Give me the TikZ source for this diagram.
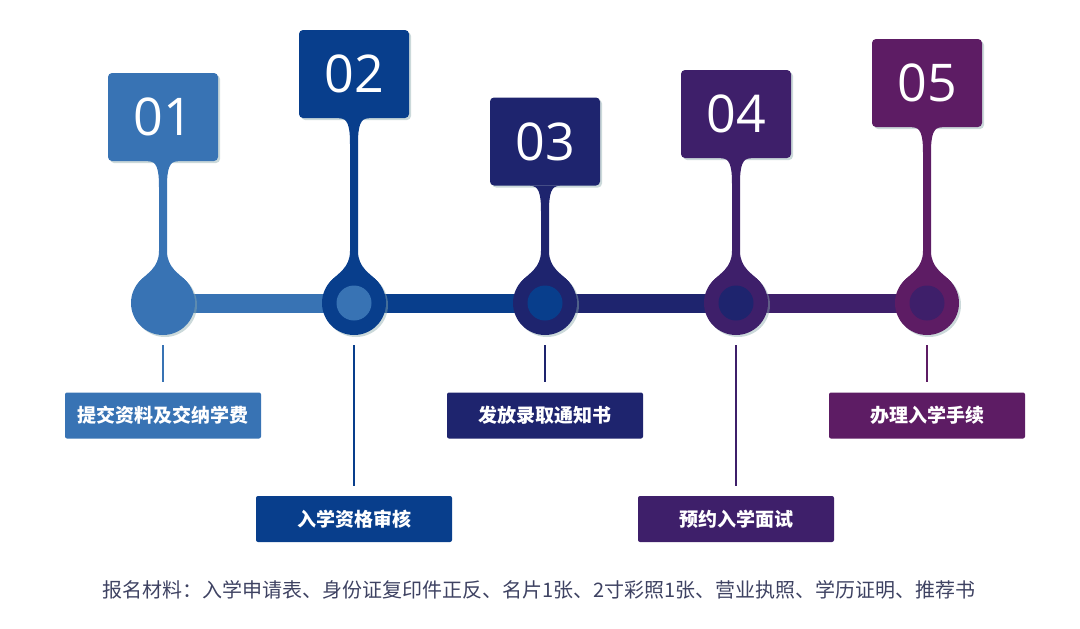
\documentclass[tikz,border=0pt]{standalone}
\usepackage{fontspec}
\setmainfont{Open Sans}
\newfontfamily\cjk{Noto Sans CJK SC}
\usetikzlibrary{calc,shadows}
\usepackage{xcolor}

\definecolor{stepA}{RGB}{56,115,180}
\definecolor{stepB}{RGB}{8,62,140}
\definecolor{stepC}{RGB}{30,36,110}
\definecolor{stepD}{RGB}{62,31,106}
\definecolor{stepE}{RGB}{93,28,100}
\definecolor{shade}{RGB}{140,170,172}
\definecolor{notegray}{RGB}{62,66,98}

\begin{document}
\begin{tikzpicture}[x=1pt, y=-1pt,
  shadowed/.style={drop shadow={shadow xshift=2pt, shadow yshift=-2pt, opacity=.45, fill=shade}},
  numbox/.style={rectangle, rounded corners=4pt, minimum width=110pt, minimum height=88pt,
                 inner sep=0pt, text=white, font=\fontsize{52}{52}\selectfont, shadowed},
  knob/.style={circle, minimum size=64pt, inner sep=0pt, shadowed},
  hub/.style={circle, minimum size=35pt, inner sep=0pt},
  stepbox/.style={rectangle, rounded corners=2pt, minimum width=196pt, minimum height=46pt,
                  inner sep=0pt, text=white, font=\cjk\bfseries\fontsize{19}{19}\selectfont},
  bar/.style={line width=19pt},
  tick/.style={line width=2.2pt, shorten <=10pt, shorten >=10pt},
]
  \useasboundingbox (0,0) rectangle (1080,629);

  % Timeline points
  \coordinate (p1) at (163,303);
  \coordinate (p2) at (354,303);
  \coordinate (p3) at (545,303);
  \coordinate (p4) at (736,303);
  \coordinate (p5) at (927,303);

  % Timeline bars
  \draw[bar, stepA] (p1) -- (p2);
  \draw[bar, stepB] (p2) -- (p3);
  \draw[bar, stepC] (p3) -- (p4);
  \draw[bar, stepD] (p4) -- (p5);

  % Knobs on the line
  \node[knob, fill=stepA] (c1) at (p1) {};
  \node[knob, fill=stepB] (c2) at (p2) {};
  \node[knob, fill=stepC] (c3) at (p3) {};
  \node[knob, fill=stepD] (c4) at (p4) {};
  \node[knob, fill=stepE] (c5) at (p5) {};

  % Bar end caps
  \node[hub, fill=stepA] (d2) at (p2) {};
  \node[hub, fill=stepB] (d3) at (p3) {};
  \node[hub, fill=stepC] (d4) at (p4) {};
  \node[hub, fill=stepD] (d5) at (p5) {};

  % Number tags
  \node[numbox, fill=stepA] (n1) at (163,117)   {01};
  \node[numbox, fill=stepB] (n2) at (354,74)    {02};
  \node[numbox, fill=stepC] (n3) at (545,141.5) {03};
  \node[numbox, fill=stepD] (n4) at (736,114)   {04};
  \node[numbox, fill=stepE] (n5) at (927,83)    {05};

  % Necks from tag to knob
  \fill[stepA] ($(n1.south)+(-15,0)$) .. controls +(9,0) and +(0,-18) .. ($(n1.south)+(-4,26)$)
    -- ($(c1)+(-4,-52)$) .. controls +(0,17) and +(8,-9) .. ($(c1)+(-24,-21)$)
    -- ($(c1)+(24,-21)$) .. controls +(-8,-9) and +(0,17) .. ($(c1)+(4,-52)$)
    -- ($(n1.south)+(4,26)$) .. controls +(0,-18) and +(-9,0) .. ($(n1.south)+(15,0)$) -- cycle;
  \fill[stepB] ($(n2.south)+(-15,0)$) .. controls +(9,0) and +(0,-18) .. ($(n2.south)+(-4,26)$)
    -- ($(c2)+(-4,-52)$) .. controls +(0,17) and +(8,-9) .. ($(c2)+(-24,-21)$)
    -- ($(c2)+(24,-21)$) .. controls +(-8,-9) and +(0,17) .. ($(c2)+(4,-52)$)
    -- ($(n2.south)+(4,26)$) .. controls +(0,-18) and +(-9,0) .. ($(n2.south)+(15,0)$) -- cycle;
  \fill[stepC] ($(n3.south)+(-15,0)$) .. controls +(9,0) and +(0,-18) .. ($(n3.south)+(-4,26)$)
    -- ($(c3)+(-4,-52)$) .. controls +(0,17) and +(8,-9) .. ($(c3)+(-24,-21)$)
    -- ($(c3)+(24,-21)$) .. controls +(-8,-9) and +(0,17) .. ($(c3)+(4,-52)$)
    -- ($(n3.south)+(4,26)$) .. controls +(0,-18) and +(-9,0) .. ($(n3.south)+(15,0)$) -- cycle;
  \fill[stepD] ($(n4.south)+(-15,0)$) .. controls +(9,0) and +(0,-18) .. ($(n4.south)+(-4,26)$)
    -- ($(c4)+(-4,-52)$) .. controls +(0,17) and +(8,-9) .. ($(c4)+(-24,-21)$)
    -- ($(c4)+(24,-21)$) .. controls +(-8,-9) and +(0,17) .. ($(c4)+(4,-52)$)
    -- ($(n4.south)+(4,26)$) .. controls +(0,-18) and +(-9,0) .. ($(n4.south)+(15,0)$) -- cycle;
  \fill[stepE] ($(n5.south)+(-15,0)$) .. controls +(9,0) and +(0,-18) .. ($(n5.south)+(-4,26)$)
    -- ($(c5)+(-4,-52)$) .. controls +(0,17) and +(8,-9) .. ($(c5)+(-24,-21)$)
    -- ($(c5)+(24,-21)$) .. controls +(-8,-9) and +(0,17) .. ($(c5)+(4,-52)$)
    -- ($(n5.south)+(4,26)$) .. controls +(0,-18) and +(-9,0) .. ($(n5.south)+(15,0)$) -- cycle;

  % Step labels
  \node[stepbox, fill=stepA] (s1) at (163,415.5) {提交资料及交纳学费};
  \node[stepbox, fill=stepB] (s2) at (354,519)   {入学资格审核};
  \node[stepbox, fill=stepC] (s3) at (545,415.5) {发放录取通知书};
  \node[stepbox, fill=stepD] (s4) at (736,519)   {预约入学面试};
  \node[stepbox, fill=stepE] (s5) at (927,415.5) {办理入学手续};

  % Ticks from knob to label
  \draw[tick, stepA] (c1) -- (s1);
  \draw[tick, stepB] (c2) -- (s2);
  \draw[tick, stepC] (c3) -- (s3);
  \draw[tick, stepD] (c4) -- (s4);
  \draw[tick, stepE] (c5) -- (s5);

  % Note
  \node[font=\cjk\fontsize{20}{20}\selectfont, text=notegray] (note) at (539,590)
    {报名材料：入学申请表、身份证复印件正反、名片1张、2寸彩照1张、营业执照、学历证明、推荐书};
\end{tikzpicture}
\end{document}
